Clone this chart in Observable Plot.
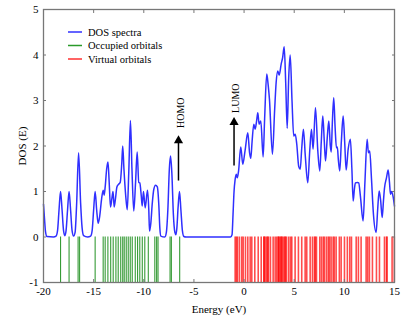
<!DOCTYPE html>
<html><head><meta charset="utf-8">
<script src="https://cdn.jsdelivr.net/npm/d3@7"></script>
<script src="https://cdn.jsdelivr.net/npm/@observablehq/plot@0.6"></script>
<style>body{margin:0;background:#fff} #chart{width:403px;height:319px} #chart svg text{font-family:"Liberation Serif",serif}</style>
</head><body><div id="chart"></div>
<script>
// Tick values
const xTicks = [-20, -15, -10, -5, 0, 5, 10, 15];
const yTicks = [-1, 0, 1, 2, 3, 4, 5];

// DOS spectrum (energy in eV, DOS value)
const dosE = [-20,-19.9,-19.8,-19.65,-19.0,-18.75,-18.6,-18.45,-18.3,-18.15,-18.0,-17.87,-17.75,-17.6,-17.45,-17.3,-17.15,-17.0,-16.85,-16.7,-16.5,-16.3,-16.15,-16.0,-15.6,-15.3,-15.15,-15.0,-14.85,-14.7,-14.55,-14.4,-14.2,-14.05,-13.95,-13.85,-13.7,-13.57,-13.45,-13.32,-13.18,-13.07,-12.95,-12.82,-12.68,-12.5,-12.35,-12.2,-12.1,-11.98,-11.8,-11.65,-11.5,-11.33,-11.18,-11.0,-10.82,-10.66,-10.5,-10.4,-10.25,-10.16,-10.03,-9.86,-9.63,-9.5,-9.43,-9.3,-9.15,-9.0,-8.83,-8.65,-8.5,-8.4,-8.3,-7.9,-7.75,-7.6,-7.45,-7.33,-7.2,-7.05,-6.9,-6.8,-6.7,-6.58,-6.44,-6.3,-6.15,-6.0,-5.8,-1.35,-1.2,-1.1,-1.0,-0.9,-0.78,-0.68,-0.55,-0.33,-0.13,0.1,0.37,0.55,0.67,0.8,0.97,1.1,1.25,1.37,1.5,1.67,1.9,2.05,2.26,2.4,2.53,2.83,3.05,3.2,3.36,3.5,3.7,3.85,4.0,4.15,4.3,4.45,4.6,4.78,4.95,5.1,5.25,5.45,5.6,5.75,5.92,6.1,6.35,6.55,6.72,6.88,7.12,7.35,7.55,7.7,7.85,8.0,8.12,8.3,8.45,8.6,8.69,8.8,8.94,9.08,9.21,9.3,9.4,9.54,9.7,9.88,10.03,10.18,10.38,10.6,10.75,10.88,11.0,11.1,11.3,11.43,11.6,11.87,12.05,12.27,12.4,12.53,12.7,12.9,13.17,13.32,13.47,13.62,13.77,13.9,14.0,14.2,14.37,14.5,14.6,14.7,14.85,15.0];
const dosY = [0.72,0.4,0.12,0.01,0,0.02,0.14,0.6,1.0,0.6,0.14,0.03,0.14,0.6,1.0,0.6,0.14,0.02,0.1,0.7,1.85,0.75,0.2,0.03,0,0.02,0.14,0.6,1.0,0.6,0.3,0.45,0.85,1.03,0.92,1.1,1.5,1.65,1.2,0.66,0.85,1.0,0.66,0.85,1.1,1.16,1.2,1.6,2.0,1.5,0.9,0.6,1.4,2.56,1.5,0.57,1.2,1.87,1.2,1.19,0.9,0.68,1.0,0.64,1.03,0.6,0.13,0.3,0.75,1.05,1.14,1.1,0.7,0.2,0.02,0,0.1,0.6,1.5,1.78,1.4,0.5,0.1,0.05,0.2,0.65,1.0,0.6,0.14,0.01,0,0,0.05,0.5,1.0,1.25,1.38,1.3,1.45,1.98,1.6,1.9,2.29,1.85,1.73,2.1,2.48,2.37,2.55,2.73,2.48,2.55,1.76,2.6,3.58,3.35,3.03,1.82,2.8,3.4,3.65,3.56,3.8,3.95,4.18,3.4,2.39,3.5,4.0,3.0,2.22,2.26,2.05,1.55,1.49,1.95,2.37,1.8,1.19,1.9,2.37,1.93,2.84,1.9,1.45,2.1,2.66,2.1,1.67,2.2,2.55,2.0,1.87,2.5,3.06,2.4,1.96,1.98,1.7,1.45,2.1,2.66,2.1,1.47,1.93,2.15,1.5,0.79,1.05,1.19,1.2,1.19,0.9,0.35,1.2,2.15,1.85,1.89,1.3,0.5,0.1,0.6,1.01,0.8,0.43,0.8,1.07,1.3,1.47,1.2,0.94,1.0,0.9,0.68];

// Orbital energies (eV)
const occupied = [-18.3,-17.45,-16.55,-16.4,-14.85,-14.05,-13.85,-13.58,-13.3,-13.05,-12.78,-12.55,-12.3,-12.1,-11.95,-11.75,-11.55,-11.35,-11.15,-10.85,-10.62,-10.4,-10.15,-9.9,-9.55,-8.9,-8.72,-8.58,-7.38,-7.25,-6.42];
const virtual = [-0.89,-0.76,-0.66,-0.46,-0.23,-0.09,0.14,0.37,0.61,0.77,1.07,1.41,1.71,1.97,2.0,2.1,2.26,2.35,2.43,2.63,2.9,3.1,3.26,3.4,3.45,3.53,3.66,3.72,3.8,3.93,4.06,4.12,4.23,4.45,4.63,4.76,5.09,5.42,5.75,6.09,6.25,6.59,6.82,7.02,7.1,7.22,7.55,7.72,7.9,8.02,8.22,8.4,8.52,8.68,8.88,9.0,9.18,9.5,9.68,10.01,10.3,10.54,10.71,11.18,11.4,11.67,12.17,12.33,12.5,12.8,13.2,13.5,14.0,14.2,14.26,14.76,14.98];
const stickTop = 0, stickBottom = -1;

// HOMO / LUMO annotations
const arrowLabels = ["HOMO", "LUMO"];
const arrowX = [-6.54, -1.0];
const arrowFrom = [1.23, 1.56];
const arrowTo = [2.12, 2.52];
const labelY = [2.73, 3.05];

// Legend
const legendNames = ["DOS spectra", "Occupied orbitals", "Virtual orbitals"];
const legendColors = ["#3030ff", "#2a9a2a", "#ff3030"];

const fmt = d => String(d);
const axisColor = "#777";
const serif = "Liberation Serif, serif";

const chart = Plot.plot({
  width: 403, height: 319,
  marginLeft: 43, marginRight: 9, marginTop: 9, marginBottom: 37,
  style: {fontFamily: serif, fontSize: "11px", color: "#000", background: "#fff"},
  x: {domain: [-20, 15]},
  y: {domain: [-1, 5]},
  marks: [
    Plot.ruleX(occupied, {x: d => d, y1: stickTop, y2: stickBottom, stroke: "#138a13", strokeOpacity: 0.85, strokeWidth: 1.1}),
    Plot.ruleX(virtual, {x: d => d, y1: stickTop, y2: stickBottom, stroke: "#ff0000", strokeOpacity: 0.7, strokeWidth: 1.6}),
    Plot.line(dosY, {x: dosE, y: dosY, stroke: "#2f2fff", strokeWidth: 1.5, curve: "monotone-x"}),
    Plot.ruleX(arrowX, {x: arrowX, y1: arrowFrom, y2: arrowTo, stroke: "#000", strokeWidth: 1.5}),
    Plot.dot(arrowX, {x: arrowX, y: arrowTo, symbol: "triangle", fill: "#000", r: 3.4}),
    Plot.text(arrowLabels, {x: arrowX, y: labelY, text: arrowLabels, rotate: -90, fontSize: 10, dx: 2, fontFamily: serif}),
    Plot.frame({stroke: axisColor, strokeWidth: 1.3}),
    Plot.axisX({anchor: "bottom", ticks: xTicks, tickSize: -3, tickPadding: 8, tickFormat: fmt, stroke: axisColor,
      label: "Energy (eV)", labelAnchor: "center", labelOffset: 30, labelArrow: "none", fontSize: 11, fontFamily: serif, fontWeight: "normal"}),
    Plot.axisX({anchor: "top", ticks: xTicks, tickSize: -3, tickFormat: () => "", stroke: axisColor, label: null}),
    Plot.axisY({anchor: "left", ticks: yTicks, tickSize: -3, tickPadding: 8, tickFormat: fmt, stroke: axisColor,
      label: "DOS (E)", labelAnchor: "center", labelOffset: 25, labelArrow: "none", fontSize: 11, fontFamily: serif, fontWeight: "normal"}),
    Plot.axisY({anchor: "right", ticks: yTicks, tickSize: -3, tickFormat: () => "", stroke: axisColor, label: null})
  ]
});

document.getElementById("chart").appendChild(chart);

// Legend drawn into the same SVG
const svg = d3.select(chart);
const lg = svg.append("g").attr("font-family", serif).attr("font-size", 10.5).attr("text-anchor", "start");
legendNames.forEach((name, i) => {
  const y = 32 + i * 13.5;
  lg.append("line").attr("x1", 68).attr("x2", 82).attr("y1", y).attr("y2", y)
    .attr("stroke", legendColors[i]).attr("stroke-width", 1.5);
  lg.append("text").attr("x", 88).attr("y", y).attr("dy", "0.35em").attr("fill", "#000")
    .attr("text-anchor", "start").text(name);
});
</script></body></html>
